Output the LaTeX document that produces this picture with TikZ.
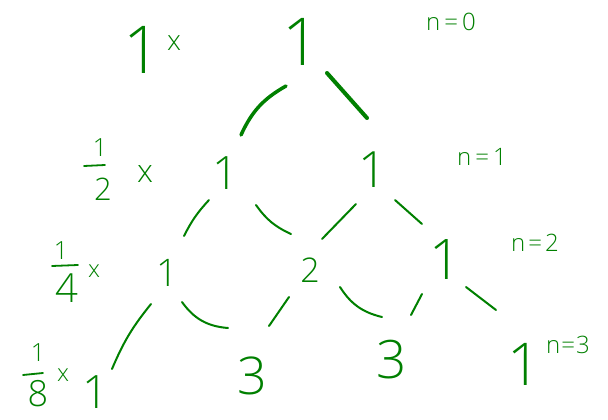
\documentclass[tikz,border=0pt]{standalone}
\usepackage{fontspec}
\setmainfont{Open Sans Light}
\usetikzlibrary{calc}
\definecolor{hgreen}{RGB}{0,128,0}
\newcommand{\fs}[1]{\fontsize{#1}{#1}\selectfont}
\begin{document}
\begin{tikzpicture}[x=1pt,y=-1pt,
  hand/.style={text=hgreen,inner sep=0pt},
  conn/.style={draw=hgreen,line width=2pt,line cap=round},
  thickconn/.style={conn,line width=3.5pt},
  bar/.style={draw=hgreen,line width=1.8pt,line cap=round}]
\fill[white] (0,0) rectangle (608,420);
\useasboundingbox (0,0) rectangle (608,420);
% triangle entries
\node[hand,font=\fs{66}] (t0) at (301,42) {1};
\node[hand,font=\fs{46}] (r1a) at (226,173) {1};
\node[hand,font=\fs{50}] (r1b) at (373,170) {1};
\node[hand,font=\fs{38}] (r2a) at (167,273) {1};
\node[hand,font=\fs{34}] (r2b) at (310,270) {2};
\node[hand,font=\fs{56}] (r2c) at (445,260) {1};
\node[hand,font=\fs{46}] (r3a) at (96,392) {1};
\node[hand,font=\fs{52}] (r3b) at (252,376) {3};
\node[hand,font=\fs{53}] (r3c) at (392,360) {3};
\node[hand,font=\fs{59}] (r3d) at (524,364) {1};
% left coefficients
\node[hand,font=\fs{66}] (c0) at (142,50) {1};
\node[hand,font=\fs{28}] (x0) at (174,43) {x};
\node[hand,font=\fs{25}] (f1n) at (100,148) {1};
\node[hand,font=\fs{31}] (f1d) at (103,189) {2};
\node[hand,font=\fs{32}] (x1) at (145,174) {x};
\node[hand,font=\fs{25}] (f2n) at (61,251) {1};
\node[hand,font=\fs{40}] (f2d) at (67,288) {4};
\node[hand,font=\fs{24}] (x2) at (94,271) {x};
\node[hand,font=\fs{25}] (f3n) at (38,353) {1};
\node[hand,font=\fs{36}] (f3d) at (38,394) {8};
\node[hand,font=\fs{24}] (x3) at (63,375) {x};
\draw[bar] ([shift={(-16,18)}]f1n.center) -- ([shift={(5,17)}]f1n.center);
\draw[bar] ([shift={(-9,15)}]f2n.center) -- ([shift={(17,14)}]f2n.center);
\draw[bar] ([shift={(-15,22)}]f3n.center) -- ([shift={(5,20)}]f3n.center);
% right labels
\node[hand,font=\fs{24}] (n0) at (451,22) {n\kern4pt=\kern4pt0};
\node[hand,font=\fs{24}] (n1) at (482,157) {n\kern4pt=\kern4pt1};
\node[hand,font=\fs{24}] (n2) at (535,243) {n\kern3pt=\kern3pt2};
\node[hand,font=\fs{24}] (n3) at (568,345) {n\kern1pt=\kern1pt3};
% connectors
\draw[thickconn] ([shift={(-15,44)}]t0.center) to[bend right=18] ([shift={(15,-38)}]r1a.center);
\draw[thickconn,line width=4pt] ([shift={(26,31)}]t0.center) -- ([shift={(-6,-52)}]r1b.center);
\draw[conn] ([shift={(-17,27)}]r1a.center) to[bend right=8] ([shift={(17,-37)}]r2a.center);
\draw[conn] ([shift={(30,32)}]r1a.center) to[bend right=15] ([shift={(-19,-36)}]r2b.center);
\draw[conn] ([shift={(-17,34)}]r1b.center) -- ([shift={(12,-31)}]r2b.center);
\draw[conn] ([shift={(22,30)}]r1b.center) -- ([shift={(-23,-36)}]r2c.center);
\draw[conn] ([shift={(-16,31)}]r2a.center) to[bend right=8] ([shift={(16,-23)}]r3a.center);
\draw[conn] ([shift={(15,29)}]r2a.center) to[bend right=25] ([shift={(-24,-48)}]r3b.center);
\draw[conn] ([shift={(-21,27)}]r2b.center) -- ([shift={(17,-50)}]r3b.center);
\draw[conn] ([shift={(30,17)}]r2b.center) to[bend right=22] ([shift={(-10,-43)}]r3c.center);
\draw[conn] ([shift={(-23,34)}]r2c.center) -- ([shift={(19,-45)}]r3c.center);
\draw[conn] ([shift={(21,27)}]r2c.center) -- ([shift={(-28,-54)}]r3d.center);
\end{tikzpicture}
\end{document}
